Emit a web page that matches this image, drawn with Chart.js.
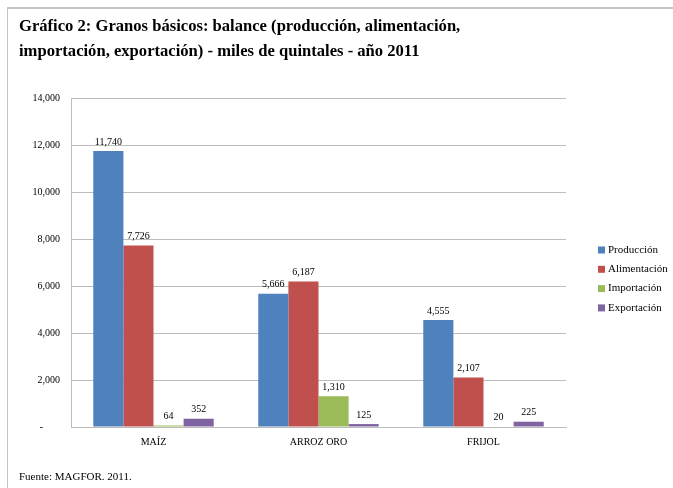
<!DOCTYPE html>
<html>
<head>
<meta charset="utf-8">
<script src="https://cdn.jsdelivr.net/npm/chart.js@4.4.1/dist/chart.umd.min.js"></script>
<style>
    body { margin: 0; background: #fff; }
    #rahmen {
        position: absolute; left: 7px; top: 7px; width: 666px; height: 481px;
        border-left: 1px solid #c4c4c4; border-top: 2px solid #c4c4c4;
    }
    #titel {
        position: absolute; left: 19px; top: 13px;
        font: bold 16.6px "Liberation Serif", serif; line-height: 25px; color: #000;
    }
    #quelle {
        position: absolute; left: 19px; top: 470px;
        font: 11px "Liberation Serif", serif; color: #000;
    }
    #grafik { position: absolute; left: 0; top: 0; }
</style>
</head>
<body>
<div id="rahmen"></div>
<canvas id="grafik" width="673" height="488"></canvas>
<div id="titel">Gráfico 2: Granos básicos: balance (producción, alimentación,<br>importación, exportación) - miles de quintales - año 2011</div>
<div id="quelle">Fuente: MAGFOR. 2011.</div>
<script>
// Daten
const kategorien = ['MAÍZ', 'ARROZ ORO', 'FRIJOL'];
const produccion = [11740, 5666, 4555];
const alimentacion = [7726, 6187, 2107];
const importacion = [64, 1310, 20];
const exportacion = [352, 125, 225];
const yTicks = [0, 2000, 4000, 6000, 8000, 10000, 12000, 14000];

const schrift = '"Liberation Serif", serif';

// Zahlen über den Balken
const werteLabels = {
    id: 'werteLabels',
    afterDatasetsDraw: function (chart) {
        const ctx = chart.ctx;
        ctx.save();
        ctx.font = '10px ' + schrift;
        ctx.fillStyle = '#000';
        ctx.textAlign = 'center';
        ctx.textBaseline = 'bottom';
        chart.data.datasets.forEach(function (ds, i) {
            chart.getDatasetMeta(i).data.forEach(function (bar, j) {
                ctx.fillText(ds.data[j].toLocaleString('en-US'), bar.x, bar.y - 4);
            });
        });
        ctx.restore();
    }
};

// Legende rechts
const legende = {
    id: 'legende',
    afterDraw: function (chart) {
        const ctx = chart.ctx;
        const x = chart.chartArea.right + 32;
        const y0 = 250;
        ctx.save();
        ctx.font = '11px ' + schrift;
        ctx.textBaseline = 'middle';
        chart.data.datasets.forEach(function (ds, i) {
            const y = y0 + i * 19.3;
            ctx.fillStyle = ds.backgroundColor;
            ctx.fillRect(x, y - 3.5, 7, 7);
            ctx.fillStyle = '#000';
            ctx.fillText(ds.label, x + 10, y);
        });
        ctx.restore();
    }
};

new Chart(document.querySelector('#grafik'), {
    type: 'bar',
    data: {
        labels: kategorien,
        datasets: [
            { label: 'Producción', data: produccion, backgroundColor: '#4F81BD' },
            { label: 'Alimentación', data: alimentacion, backgroundColor: '#C0504D' },
            { label: 'Importación', data: importacion, backgroundColor: '#9BBB59' },
            { label: 'Exportación', data: exportacion, backgroundColor: '#8064A2' }
        ]
    },
    options: {
        responsive: false,
        animation: false,
        categoryPercentage: 0.73,
        barPercentage: 1,
        layout: { padding: { top: 98, right: 107, bottom: 31, left: 0 } },
        scales: {
            y: {
                min: 0,
                max: 14000,
                afterBuildTicks: function (scale) {
                    scale.ticks = yTicks.map(function (v) { return { value: v }; });
                },
                afterFit: function (scale) { scale.width = 71; },
                ticks: {
                    color: '#000',
                    padding: 11,
                    font: { family: schrift, size: 10 },
                    callback: function (v) {
                        return v === 0 ? '-\u2003\u2002\u2009' : v.toLocaleString('en-US');
                    }
                },
                grid: { color: '#bdbdbd', drawTicks: false },
                border: { display: true, color: '#bdbdbd' }
            },
            x: {
                afterFit: function (scale) { scale.height = 30; },
                ticks: { color: '#000', padding: 9, font: { family: schrift, size: 10 } },
                grid: { display: false, drawTicks: false },
                border: { display: true, color: '#bdbdbd' }
            }
        },
        plugins: {
            legend: { display: false },
            tooltip: { enabled: false }
        }
    },
    plugins: [werteLabels, legende]
});
</script>
</body>
</html>
